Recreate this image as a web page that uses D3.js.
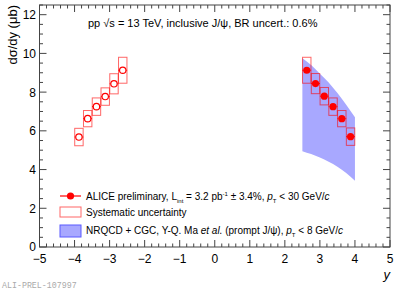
<!DOCTYPE html>
<html>
<head>
<meta charset="UTF-8">
<script src="https://d3js.org/d3.v7.min.js"></script>
<style>
  body { margin: 0; background: #fff; overflow: hidden; }
  svg { font-family: 'Liberation Sans', Arial, sans-serif; }
</style>
</head>
<body>
<div id="chart"></div>
<script>
  // rapidity bin centres and cross sections (ub)
  const rapBack = [-3.875, -3.625, -3.375, -3.125, -2.875, -2.625];
  const xsecBack = [5.68, 6.63, 7.25, 7.77, 8.43, 9.13];
  const sysBack = [0.45, 0.42, 0.45, 0.45, 0.52, 0.67];

  const rapFwd = [2.625, 2.875, 3.125, 3.375, 3.625, 3.875];
  const xsecFwd = [9.13, 8.44, 7.79, 7.25, 6.63, 5.70];
  const sysFwd = [0.67, 0.52, 0.45, 0.45, 0.42, 0.45];

  // NRQCD + CGC band
  const bandRap = [2.5, 2.75, 3.0, 3.25, 3.5, 3.75, 4.0];
  const bandHi = [9.75, 9.4, 8.95, 8.5, 7.95, 7.35, 6.7];
  const bandLo = [4.95, 4.8, 4.62, 4.4, 4.15, 3.82, 3.42];

  const xTicks = [-5, -4, -3, -2, -1, 0, 1, 2, 3, 4, 5];
  const yTicks = [0, 2, 4, 6, 8, 10, 12];

  const width = 399, height = 289;
  const svg = d3.select("#chart").append("svg")
    .attr("width", width).attr("height", height);

  const x = d3.scaleLinear().domain([-5, 5]).range([39.5, 390]);
  const y = d3.scaleLinear().domain([0, 12.5]).range([247, 5]);

  const red = "#ff0000";
  const axisCol = "#444";

  // band
  const band = bandRap.map((r, i) => ({ r: r, lo: bandLo[i], hi: bandHi[i] }));
  svg.append("path")
    .datum(band)
    .attr("fill", "#a8a8ff")
    .attr("d", d3.area().curve(d3.curveMonotoneX)
      .x(d => x(d.r)).y0(d => y(d.lo)).y1(d => y(d.hi)));

  // frame + ticks
  const g = svg.append("g");
  g.append("rect")
    .attr("x", x(-5)).attr("y", y(12.5))
    .attr("width", x(5) - x(-5)).attr("height", y(0) - y(12.5))
    .attr("fill", "none").attr("stroke", axisCol).attr("stroke-width", 1);

  const xMinor = d3.range(-5, 5.001, 0.2);
  const yMinor = d3.range(0, 12.501, 0.5);
  xMinor.forEach(v => {
    const major = Math.abs(v - Math.round(v)) < 1e-6;
    const len = major ? 7 : 3.5;
    g.append("line").attr("x1", x(v)).attr("x2", x(v))
      .attr("y1", y(0)).attr("y2", y(0) - len)
      .attr("stroke", axisCol);
    g.append("line").attr("x1", x(v)).attr("x2", x(v))
      .attr("y1", y(12.5)).attr("y2", y(12.5) + len)
      .attr("stroke", axisCol);
  });
  yMinor.forEach(v => {
    const major = Math.abs(v / 2 - Math.round(v / 2)) < 1e-6;
    const len = major ? 7 : 3.5;
    g.append("line").attr("x1", x(-5)).attr("x2", x(-5) + len)
      .attr("y1", y(v)).attr("y2", y(v)).attr("stroke", axisCol);
    g.append("line").attr("x1", x(5)).attr("x2", x(5) - len)
      .attr("y1", y(v)).attr("y2", y(v)).attr("stroke", axisCol);
  });

  // tick labels
  svg.append("g").selectAll("text").data(xTicks).enter().append("text")
    .attr("x", d => x(d)).attr("y", 263)
    .attr("text-anchor", "middle").attr("font-size", 12)
    .text(d => d < 0 ? "\u2212" + Math.abs(d) : d);
  svg.append("g").selectAll("text").data(yTicks).enter().append("text")
    .attr("x", 36).attr("y", d => y(d) + (d === 0 ? 3.5 : 4.5))
    .attr("text-anchor", "end").attr("font-size", 12)
    .text(d => d);

  // axis titles
  svg.append("text")
    .attr("transform", "translate(17,5) rotate(-90)")
    .attr("text-anchor", "end").attr("font-size", 13)
    .text("d\u03c3/dy (\u03bcb)");
  svg.append("text")
    .attr("x", 390).attr("y", 279)
    .attr("text-anchor", "end").attr("font-size", 13)
    .attr("font-style", "italic").text("y");

  // systematic boxes, x errors and markers
  function drawSet(rap, xsec, sys, filled) {
    const pts = rap.map((r, i) => ({ r: r, v: xsec[i], s: sys[i] }));
    const s = svg.append("g");
    s.selectAll("rect").data(pts).enter().append("rect")
      .attr("x", d => x(d.r - 0.12)).attr("y", d => y(d.v + d.s))
      .attr("width", d => x(d.r + 0.12) - x(d.r - 0.12))
      .attr("height", d => y(d.v - d.s) - y(d.v + d.s))
      .attr("fill", "none").attr("stroke", red)
      .attr("stroke-opacity", 0.6).attr("stroke-width", 1);
    s.selectAll("line.l").data(pts).enter().append("line")
      .attr("x1", d => x(d.r - 0.125)).attr("x2", d => x(d.r) - 3.5)
      .attr("y1", d => y(d.v)).attr("y2", d => y(d.v))
      .attr("stroke", red);
    s.selectAll("line.r").data(pts).enter().append("line")
      .attr("x1", d => x(d.r) + 3.5).attr("x2", d => x(d.r + 0.125))
      .attr("y1", d => y(d.v)).attr("y2", d => y(d.v))
      .attr("stroke", red);
    s.selectAll("circle").data(pts).enter().append("circle")
      .attr("cx", d => x(d.r)).attr("cy", d => y(d.v))
      .attr("r", filled ? 3.6 : 3.2)
      .attr("fill", filled ? red : "none")
      .attr("stroke", red).attr("stroke-width", filled ? 0 : 1.2);
  }
  drawSet(rapBack, xsecBack, sysBack, false);
  drawSet(rapFwd, xsecFwd, sysFwd, true);

  // title
  svg.append("text")
    .attr("x", 88).attr("y", 27).attr("font-size", 11)
    .text("pp \u221as = 13 TeV, inclusive J/\u03c8, BR uncert.: 0.6%");

  // legend
  const lg = svg.append("g").attr("font-size", 10);
  lg.append("line").attr("x1", 60).attr("x2", 81)
    .attr("y1", 196).attr("y2", 196).attr("stroke", red).attr("stroke-width", 1.2);
  lg.append("circle").attr("cx", 70.5).attr("cy", 196).attr("r", 3.6).attr("fill", red);
  const t1 = lg.append("text").attr("x", 86).attr("y", 199.5);
  t1.append("tspan").text("ALICE preliminary, L");
  t1.append("tspan").attr("font-size", 6).attr("dy", 3).text("int");
  t1.append("tspan").attr("dy", -3).text(" = 3.2 pb");
  t1.append("tspan").attr("font-size", 6).attr("dy", -4).text("-1");
  t1.append("tspan").attr("dy", 4).text(" \u00b1 3.4%, ");
  t1.append("tspan").attr("font-style", "italic").text("p");
  t1.append("tspan").attr("font-size", 6).attr("dy", 3).text("T");
  t1.append("tspan").attr("dy", -3).text(" < 30 GeV/");
  t1.append("tspan").attr("font-style", "italic").text("c");

  lg.append("rect").attr("x", 60).attr("y", 207).attr("width", 21).attr("height", 10)
    .attr("fill", "none").attr("stroke", red).attr("stroke-opacity", 0.6);
  lg.append("text").attr("x", 86).attr("y", 215.5).text("Systematic uncertainty");

  lg.append("rect").attr("x", 60).attr("y", 225).attr("width", 21).attr("height", 12)
    .attr("fill", "#a8a8ff").attr("stroke", "#5a5aff");
  const t3 = lg.append("text").attr("x", 86).attr("y", 233.5);
  t3.append("tspan").text("NRQCD + CGC, Y-Q. Ma ");
  t3.append("tspan").attr("font-style", "italic").text("et al.");
  t3.append("tspan").text(" (prompt J/\u03c8), ");
  t3.append("tspan").attr("font-style", "italic").text("p");
  t3.append("tspan").attr("font-size", 6).attr("dy", 3).text("T");
  t3.append("tspan").attr("dy", -3).text(" < 8 GeV/");
  t3.append("tspan").attr("font-style", "italic").text("c");

  // watermark
  svg.append("text").attr("x", 2).attr("y", 288)
    .attr("font-family", "'Liberation Mono', 'DejaVu Sans Mono', monospace")
    .attr("font-size", 8.3).attr("fill", "#aaa").text("ALI-PREL-107997");
</script>
</body>
</html>
